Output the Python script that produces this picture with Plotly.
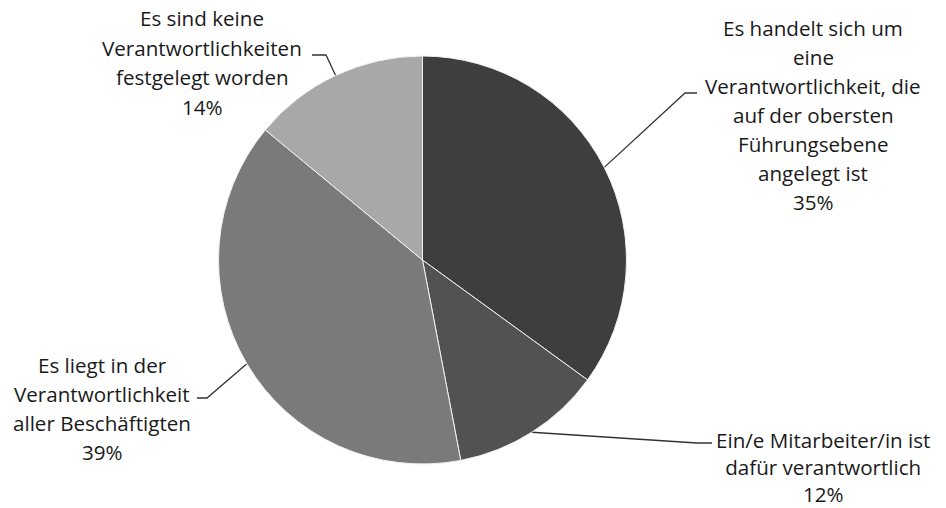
import math
import plotly.graph_objects as go

# Zuständigkeit – Anteile der Antworten
categories = [
    "Es handelt sich um eine Verantwortlichkeit, die auf der obersten Führungsebene angelegt ist",
    "Ein/e Mitarbeiter/in ist dafür verantwortlich",
    "Es liegt in der Verantwortlichkeit aller Beschäftigten",
    "Es sind keine Verantwortlichkeiten festgelegt worden",
]
values = [35, 12, 39, 14]
label_lines = [
    ["Es handelt sich um", "eine", "Verantwortlichkeit, die", "auf der obersten",
     "Führungsebene", "angelegt ist"],
    ["Ein/e Mitarbeiter/in ist", "dafür verantwortlich"],
    ["Es liegt in der", "Verantwortlichkeit", "aller Beschäftigten"],
    ["Es sind keine", "Verantwortlichkeiten", "festgelegt worden"],
]
colors = ["#3e3e3e", "#525252", "#7a7a7a", "#a8a8a8"]

W, H = 946, 508
CX, CY, R = 422.5, 260.0, 204.0  # pie centre and radius in pixels

# label block placement: (centre x, first line y, line spacing or None for
# a single block of <br>-separated lines centred at y)
label_pos = [(813, 28, 29), (823, 467, None), (102, 365, 29), (202, 18, 29.5)]
# leader line elbow and end points
elbows = [((685, 93), (697, 93)), ((697, 443), (712, 443)),
          ((207, 398), (197, 398)), ((326, 55), (312, 55))]

fig = go.Figure()

fig.add_trace(go.Pie(
    labels=categories,
    values=values,
    sort=False,
    direction="clockwise",
    rotation=0,
    marker=dict(colors=colors, line=dict(color="#f2f2f2", width=1)),
    textinfo="none",
    hoverinfo="label+percent",
    showlegend=False,
    domain=dict(x=[(CX - R) / W, (CX + R) / W],
                y=[(H - CY - R) / H, (H - CY + R) / H]),
))

# leader lines from the middle of each slice's rim to its label
total = sum(values)
cum = 0.0
for i, v in enumerate(values):
    mid = (cum + v / 2) / total * 2 * math.pi
    cum += v
    sx = CX + R * math.sin(mid)
    sy = CY - R * math.cos(mid)
    (ex, ey), (tx, ty) = elbows[i]
    fig.add_trace(go.Scatter(
        x=[sx, ex, tx], y=[sy, ey, ty], mode="lines",
        line=dict(color="#333333", width=1.3),
        hoverinfo="skip", showlegend=False,
    ))

font = dict(family="'Open Sans', Lato, sans-serif", size=20.6, color="#1a1a1a")
for i, v in enumerate(values):
    x0, y0, dy = label_pos[i]
    lines = label_lines[i] + [f"{v}%"]
    if dy is None:
        fig.add_annotation(
            x=x0, y=y0, text="<br>".join(lines), showarrow=False,
            xanchor="center", yanchor="middle", align="center", font=font,
        )
        continue
    for k, txt in enumerate(lines):
        fig.add_annotation(
            x=x0, y=y0 + k * dy, text=txt, showarrow=False,
            xanchor="center", yanchor="middle", font=font,
        )

fig.update_layout(
    width=W, height=H,
    margin=dict(l=0, r=0, t=0, b=0),
    paper_bgcolor="white", plot_bgcolor="rgba(0,0,0,0)",
    xaxis=dict(range=[0, W], visible=False, fixedrange=True),
    yaxis=dict(range=[H, 0], visible=False, fixedrange=True),
)

fig.write_html("out.html")
